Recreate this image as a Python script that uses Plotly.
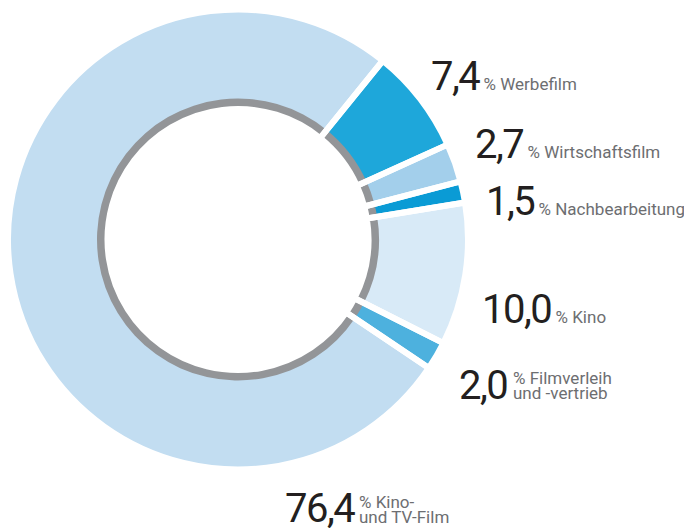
import plotly.graph_objects as go

labels = ["Werbefilm", "Wirtschaftsfilm", "Nachbearbeitung", "Kino",
          "Filmverleih und -vertrieb", "Kino- und TV-Film"]
values = [7.4, 2.7, 1.5, 10.0, 2.0, 76.4]
colors = ["#1ea7da", "#a3cfeb", "#0a9bd5", "#d8eaf7", "#4db1de", "#c2ddf1"]
label_lines = [["Werbefilm"], ["Wirtschaftsfilm"], ["Nachbearbeitung"], ["Kino"],
               ["Filmverleih", "und -vertrieb"], ["Kino-", "und TV-Film"]]

W, H = 692, 528
OFF = 8  # page body margin
FONT = "Roboto, Arial, sans-serif"
GAP = 6


def dom(cx, cy, r):
    # pixel circle (page coords) -> paper domain
    cx, cy = cx - OFF, cy - OFF
    return dict(x=[(cx - r) / W, (cx + r) / W],
                y=[(H - cy - r) / H, (H - cy + r) / H])


def px(x):
    return (x - OFF) / W


def py(y):
    return 1 - (y - OFF) / H


CX, CY = 238, 239.5
R_OUT = 227 + GAP / 2
R_HOLE = 133.5 - GAP / 2
R_RING = 141
ROT = 39

fig = go.Figure()

# coloured slices
fig.add_trace(go.Pie(
    labels=labels, values=values, sort=False, direction="clockwise",
    rotation=ROT, hole=R_HOLE / R_OUT, domain=dom(CX, CY, R_OUT),
    marker=dict(colors=colors, line=dict(width=0)),
    textinfo="none", hoverinfo="label+value", showlegend=False,
))

# grey inner ring
fig.add_trace(go.Pie(
    labels=labels, values=values, sort=False, direction="clockwise",
    rotation=ROT, hole=R_HOLE / R_RING, domain=dom(CX, CY, R_RING),
    marker=dict(colors=["#939598"] * len(values), line=dict(width=0)),
    textinfo="none", hoverinfo="skip", showlegend=False,
))

# white gaps across both
fig.add_trace(go.Pie(
    labels=labels, values=values, sort=False, direction="clockwise",
    rotation=ROT, hole=R_HOLE / R_OUT, domain=dom(CX, CY, R_OUT),
    marker=dict(colors=["rgba(0,0,0,0)"] * len(values),
                line=dict(color="white", width=GAP)),
    textinfo="none", hoverinfo="skip", showlegend=False,
))

# number left edge, baseline; text left edge for two-line labels
label_pos = [(432, 90), (476, 158.5), (487, 215.5), (483, 323.5), (460, 399), (286, 522.5)]
text_left = [None, None, None, None, 514, 360]

NUM_SIZE = 40
TXT_SIZE = 17
NUM_STYLE = f"font-size:{NUM_SIZE}px;color:#231f20;letter-spacing:-1.5px"


def bottom(baseline, size):
    return baseline + 0.244 * size + 2


annotations = []
for val, lines, (x, y), tx in zip(values, label_lines, label_pos, text_left):
    num = f"{val:.1f}".replace(".", ",")
    if len(lines) == 1:
        annotations.append(dict(
            x=px(x - 3), y=py(bottom(y, NUM_SIZE)), xref="paper", yref="paper",
            xanchor="left", yanchor="bottom", showarrow=False,
            text=(f"<span style='{NUM_STYLE}'>{num}</span>"
                  f"<span style='color:#6d6e71'> % {lines[0]}</span>"),
            font=dict(family=FONT, size=TXT_SIZE),
        ))
    else:
        annotations.append(dict(
            x=px(x - 3), y=py(bottom(y, NUM_SIZE)), xref="paper", yref="paper",
            xanchor="left", yanchor="bottom", showarrow=False,
            text=f"<span style='{NUM_STYLE}'>{num}</span>",
            font=dict(family=FONT, size=TXT_SIZE),
        ))
        for i, t in enumerate(["% " + lines[0], lines[1]]):
            annotations.append(dict(
                x=px(tx - 3), y=py(bottom(y - 15 * (1 - i), TXT_SIZE)),
                xref="paper", yref="paper",
                xanchor="left", yanchor="bottom", showarrow=False,
                text=t, font=dict(family=FONT, size=TXT_SIZE, color="#6d6e71"),
            ))

fig.update_layout(
    width=W, height=H,
    margin=dict(l=0, r=0, t=0, b=0),
    paper_bgcolor="white", plot_bgcolor="white",
    annotations=annotations,
    font=dict(family=FONT),
)

fig.write_html("out.html")
